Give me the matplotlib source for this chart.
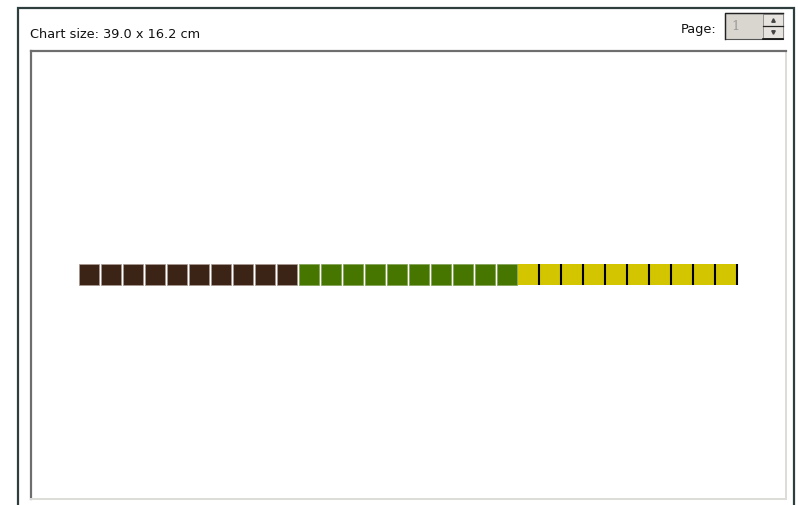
import matplotlib
matplotlib.use("Agg")
import matplotlib.pyplot as plt
from matplotlib.patches import Rectangle
import numpy as np

# Chart data: three groups of unit squares
groups = ["Group A", "Group B", "Group C"]
counts = [10, 10, 10]
colors = ["#3b2416", "#467500", "#d3c600"]
edge_colors = ["#a89890", "#7fa050", "#d3c600"]

title_text = "Chart size: 39.0 x 16.2 cm"
page_label = "Page:"
page_value = "1"

W, H = 798, 505
fig = plt.figure(figsize=(W / 100, H / 100), dpi=100)
fig.patch.set_facecolor("white")

# UI chrome in pixel coordinates
ui = fig.add_axes([0, 0, 1, 1])
ui.set_xlim(0, W)
ui.set_ylim(H, 0)
ui.axis("off")

# outer dark frame (left, top, right)
ui.plot([17.5, 17.5, 794, 794], [H, 7.5, 7.5, H], color="#2e3d3d", lw=1.6,
        solid_joinstyle="miter")

ui.text(30, 34, title_text, fontsize=9.3, family="DejaVu Sans", color="#111111",
        va="center", ha="left")
ui.text(716, 29, page_label, fontsize=9.3, family="DejaVu Sans", color="#111111",
        va="center", ha="right")

# spin box
ui.add_patch(Rectangle((725, 13), 58, 26, facecolor="#d9d6d0", edgecolor="#555555", lw=0.8))
ui.plot([725, 725, 783], [39, 13, 13], color="#222222", lw=1.0)
ui.text(731, 27, page_value, fontsize=9.5, family="DejaVu Serif", color="#999999",
        va="center", ha="left")
ui.add_patch(Rectangle((763, 14), 20, 12, facecolor="#e6e3de", edgecolor="#888888", lw=0.6))
ui.add_patch(Rectangle((763, 26), 20, 12, facecolor="#e6e3de", edgecolor="#888888", lw=0.6))
ui.plot([763, 783], [38.5, 38.5], color="#111111", lw=1.2)
ui.plot([763, 783], [26, 26], color="#222222", lw=0.9)
ui.plot([773], [20], marker="^", ms=2.5, color="#444444")
ui.plot([773], [32], marker="v", ms=2.5, color="#444444")

# chart area
left, right, top, bottom = 31, 786, 51, 499
ax = fig.add_axes([left / W, (H - bottom) / H, (right - left) / W, (bottom - top) / H])
ax.set_facecolor("white")
for s in ["left", "top"]:
    ax.spines[s].set_color("#6e6e6e")
    ax.spines[s].set_linewidth(1.6)
for s in ["right", "bottom"]:
    ax.spines[s].set_color("#dcdcd8")
    ax.spines[s].set_linewidth(1.4)
ax.set_xticks([])
ax.set_yticks([])

unit = 22.0
first_center = 89.0
ax.set_xlim((left - first_center) / unit, (right - first_center) / unit)
sq_h = 21.0
below = bottom - 285
ax.set_ylim(-below / sq_h, (bottom - top - below) / sq_h)

start = 0
for name, n, c, ec in zip(groups, counts, colors, edge_colors):
    x = np.arange(start, start + n)
    if name == "Group C":
        ax.bar(x, 1, width=1.0, bottom=0, color=c, edgecolor="none", linewidth=0)
        ax.vlines(x + 0.455, 0, 1, color="black", lw=1.5)
    else:
        ax.bar(x, 1, width=0.88, bottom=0, color=c, edgecolor=ec, linewidth=0.5)
    start += n

fig.savefig("out.png", dpi=100)
